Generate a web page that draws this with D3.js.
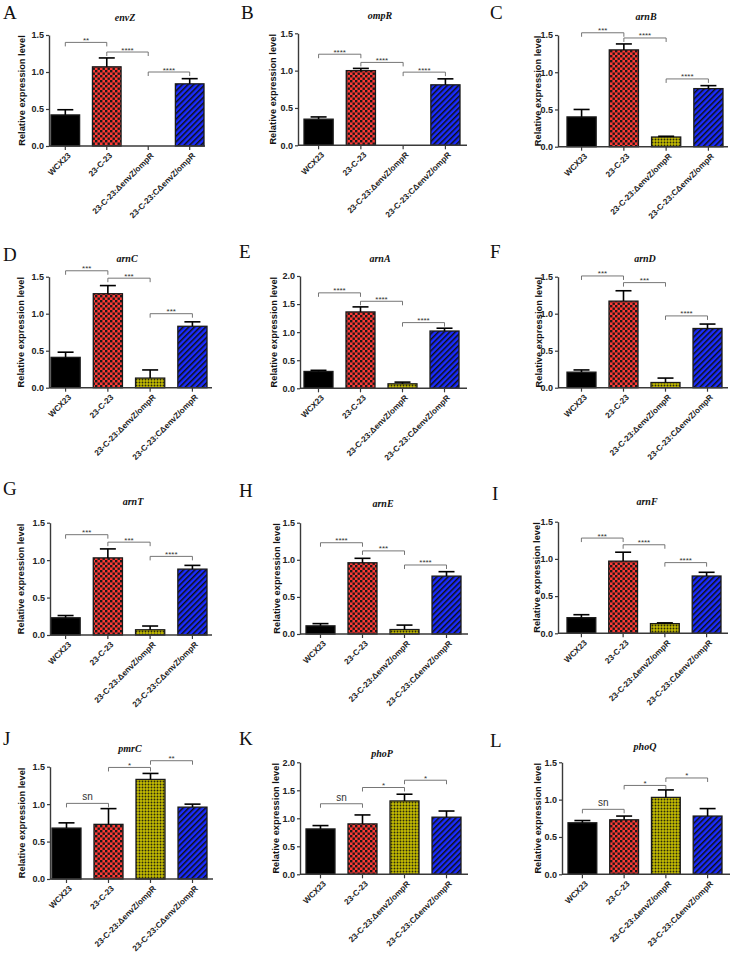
<!DOCTYPE html>
<html><head><meta charset="utf-8">
<script src="https://cdn.jsdelivr.net/npm/d3@7"></script>
<style>body{margin:0;background:#fff} svg{display:block}</style>
</head><body>
<svg id="c" width="731" height="954"></svg>
<script>
// ---------- DATA ----------
const categories = ["WCX23", "23-C-23", "23-C-23:ΔenvZ/ompR", "23-C-23:CΔenvZ/ompR"];
const genes = ["envZ","ompR","arnB","arnC","arnA","arnD","arnT","arnE","arnF","pmrC","phoP","phoQ"];
const panelLetters = ["A","B","C","D","E","F","G","H","I","J","K","L"];
const yMaxValues = [1.5,1.5,1.5,1.5,2.0,1.5,1.5,1.5,1.5,1.5,2.0,1.5];
const yTickStep = 0.5;
const yAxisTitle = "Relative expression level";

const means = [
  [0.42, 1.07, 0.00, 0.84], // envZ
  [0.35, 1.00, 0.00, 0.81], // ompR
  [0.40, 1.30, 0.13, 0.78], // arnB
  [0.41, 1.27, 0.13, 0.83], // arnC
  [0.30, 1.36, 0.08, 1.02], // arnA
  [0.21, 1.17, 0.07, 0.80], // arnD
  [0.23, 1.03, 0.07, 0.88], // arnT
  [0.11, 0.96, 0.06, 0.78], // arnE
  [0.21, 0.97, 0.13, 0.77], // arnF
  [0.68, 0.73, 1.33, 0.96], // pmrC
  [0.81, 0.90, 1.31, 1.02], // phoP
  [0.69, 0.73, 1.03, 0.78]  // phoQ
];
const errors = [
  [0.07, 0.12, 0.00, 0.07],
  [0.03, 0.03, 0.00, 0.08],
  [0.10, 0.08, 0.01, 0.04],
  [0.07, 0.11, 0.11, 0.06],
  [0.02, 0.09, 0.03, 0.05],
  [0.03, 0.14, 0.06, 0.06],
  [0.03, 0.12, 0.05, 0.05],
  [0.03, 0.06, 0.06, 0.06],
  [0.04, 0.12, 0.01, 0.05],
  [0.07, 0.21, 0.08, 0.04],
  [0.06, 0.16, 0.12, 0.11],
  [0.03, 0.05, 0.10, 0.10]
];
// significance brackets: [from index, to index, level (data units), label]
const brackets = [
  [[0,1,1.40,"**"],  [1,2,1.27,"****"], [2,3,1.00,"****"]],
  [[0,1,1.22,"****"],[1,2,1.11,"****"], [2,3,0.98,"****"]],
  [[0,1,1.53,"***"], [1,2,1.46,"****"], [2,3,0.91,"****"]],
  [[0,1,1.58,"***"], [1,2,1.48,"***"],  [2,3,1.00,"***"]],
  [[0,1,1.70,"****"],[1,2,1.55,"****"], [2,3,1.17,"****"]],
  [[0,1,1.51,"***"], [1,2,1.42,"***"],  [2,3,0.97,"****"]],
  [[0,1,1.34,"***"], [1,2,1.24,"***"],  [2,3,1.05,"****"]],
  [[0,1,1.23,"****"],[1,2,1.12,"***"],  [2,3,0.93,"****"]],
  [[0,1,1.28,"***"], [1,2,1.19,"****"], [2,3,0.95,"****"]],
  [[0,1,1.01,"sn"],  [1,2,1.49,"*"],    [2,3,1.58,"**"]],
  [[0,1,1.26,"sn"],  [1,2,1.55,"*"],    [2,3,1.68,"*"]],
  [[0,1,0.87,"sn"],  [1,2,1.19,"*"],    [2,3,1.29,"*"]]
];

// ---------- LAYOUT (positions only) ----------
const layout = [
  {ax:49, ae:205, yt:35,    y0:146,   bl:51,  br:204, tx:125, ty:21,  lx:3,   ly:19,  ytx:25},
  {ax:298,ae:467, yt:33.3,  y0:145.3, bl:304, br:460, tx:380, ty:19,  lx:241, ly:19,  ytx:276},
  {ax:558,ae:728, yt:35,    y0:146.7, bl:567, br:723, tx:646, ty:20,  lx:490, ly:19,  ytx:541},
  {ax:49, ae:212, yt:276.7, y0:387.7, bl:51,  br:207, tx:127, ty:262, lx:3,   ly:261, ytx:23.5},
  {ax:300,ae:467, yt:276,   y0:388.3, bl:304, br:459, tx:380, ty:262, lx:239, ly:258, ytx:277},
  {ax:558,ae:728, yt:276.7, y0:387.7, bl:567, br:722, tx:645, ty:262, lx:490, ly:258, ytx:542},
  {ax:50, ae:212, yt:522.7, y0:635,   bl:51,  br:207, tx:133, ty:505, lx:3,   ly:495, ytx:24},
  {ax:300,ae:468, yt:522.7, y0:634,   bl:306, br:461, tx:383, ty:507, lx:239, ly:497, ytx:279.5},
  {ax:558,ae:728, yt:521.7, y0:633.3, bl:567, br:721, tx:647, ty:505, lx:492, ly:500, ytx:539.5},
  {ax:50, ae:213, yt:766.7, y0:879,   bl:52,  br:207, tx:130, ty:752, lx:3,   ly:745, ytx:24.5},
  {ax:300,ae:468, yt:762.3, y0:874.3, bl:306, br:461, tx:382, ty:757, lx:239, ly:745, ytx:278.5},
  {ax:562,ae:730, yt:762.3, y0:874.3, bl:568, br:722, tx:645, ty:750, lx:490, ly:747, ytx:541}
];

const svg = d3.select("#c");
const defs = svg.append("defs");

// patterns
const pr = defs.append("pattern").attr("id","pRed").attr("patternUnits","userSpaceOnUse")
  .attr("width",5).attr("height",5);
pr.append("rect").attr("width",5).attr("height",5).attr("fill","#ff3a35");
pr.append("rect").attr("width",2.4).attr("height",2.4).attr("fill","#1a1a1a");
pr.append("rect").attr("x",2.5).attr("y",2.5).attr("width",2.4).attr("height",2.4).attr("fill","#1a1a1a");

const py = defs.append("pattern").attr("id","pYel").attr("patternUnits","userSpaceOnUse")
  .attr("width",3).attr("height",3);
py.append("rect").attr("width",3).attr("height",3).attr("fill","#c4bc00");
py.append("circle").attr("cx",1.5).attr("cy",1.5).attr("r",0.95).attr("fill","#2a2a10");

const pb = defs.append("pattern").attr("id","pBlue").attr("patternUnits","userSpaceOnUse")
  .attr("width",4).attr("height",4).attr("patternTransform","rotate(45)");
pb.append("rect").attr("width",4).attr("height",4).attr("fill","#1a2cff");
pb.append("rect").attr("width",1.5).attr("height",4).attr("fill","#101010");

const fills = ["#000000","url(#pRed)","url(#pYel)","url(#pBlue)"];

genes.forEach((gene, i) => {
  const L = layout[i];
  const g = svg.append("g");
  const yMax = yMaxValues[i];
  const y = d3.scaleLinear().domain([0, yMax]).range([L.y0, L.yt]);
  const x = d3.scaleBand().domain(categories).range([L.bl, L.br]).paddingInner(0.31).paddingOuter(0);
  const bw = x.bandwidth();

  g.append("text").attr("x", L.lx).attr("y", L.ly)
    .attr("font-family","'Liberation Serif','Times New Roman',serif")
    .attr("font-size", 19).attr("fill","#111").text(panelLetters[i]);
  g.append("text").attr("x", L.tx).attr("y", L.ty).attr("text-anchor","middle")
    .attr("font-family","'Liberation Serif','Times New Roman',serif")
    .attr("font-size", 10).attr("font-style","italic").attr("font-weight","bold")
    .attr("fill","#111").text(gene);

  const rows = categories.map((c, k) => ({c, k, v: means[i][k], e: errors[i][k]}));
  g.selectAll("rect.bar").data(rows.filter(d => d.v > 0)).join("rect")
    .attr("class","bar")
    .attr("x", d => x(d.c)).attr("width", bw)
    .attr("y", d => y(d.v)).attr("height", d => y(0) - y(d.v))
    .attr("fill", d => fills[d.k]).attr("stroke","#1a1a1a").attr("stroke-width",1.3);

  const eb = g.selectAll("g.err").data(rows.filter(d => d.v > 0 && d.e > 0)).join("g").attr("class","err");
  eb.append("line")
    .attr("x1", d => x(d.c) + bw/2).attr("x2", d => x(d.c) + bw/2)
    .attr("y1", d => y(d.v)).attr("y2", d => y(d.v + d.e))
    .attr("stroke","#000").attr("stroke-width",1.6);
  eb.append("line")
    .attr("x1", d => x(d.c) + bw/2 - 8).attr("x2", d => x(d.c) + bw/2 + 8)
    .attr("y1", d => y(d.v + d.e)).attr("y2", d => y(d.v + d.e))
    .attr("stroke","#000").attr("stroke-width",1.6);

  const ticks = d3.range(0, yMax + 1e-9, yTickStep);
  const ya = g.append("g").attr("transform", `translate(${L.ax},0)`)
    .call(d3.axisLeft(y).tickValues(ticks).tickFormat(d3.format(".1f")).tickSize(3).tickSizeOuter(0).tickPadding(2));
  ya.select(".domain").attr("stroke","#3a3a3a").attr("stroke-width",1.4);
  ya.selectAll(".tick line").attr("stroke","#3a3a3a").attr("stroke-width",1.2);
  ya.selectAll(".tick text").attr("font-family","'Liberation Sans',Arial,sans-serif")
    .attr("font-size",9).attr("font-weight","bold").attr("fill","#222");

  const xa = g.append("g").attr("transform", `translate(0,${L.y0})`)
    .call(d3.axisBottom(x).tickSize(4).tickSizeOuter(0));
  xa.select(".domain").remove();
  xa.append("line").attr("x1", L.ax).attr("x2", L.ae).attr("y1",0).attr("y2",0)
    .attr("stroke","#3a3a3a").attr("stroke-width",1.6);
  xa.selectAll(".tick line").attr("stroke","#3a3a3a").attr("stroke-width",1.2);
  xa.selectAll(".tick text")
    .attr("x",0).attr("y",0).attr("dy","0.35em")
    .attr("transform","translate(4,8) rotate(-45)")
    .attr("text-anchor","end")
    .attr("font-family","'Liberation Sans',Arial,sans-serif")
    .attr("font-size",8.2).attr("font-weight","bold").attr("fill","#222");

  g.append("text")
    .attr("transform", `translate(${L.ytx},${(L.y0 + L.yt)/2}) rotate(-90)`)
    .attr("text-anchor","middle")
    .attr("font-family","'Liberation Sans',Arial,sans-serif")
    .attr("font-size",9.3).attr("font-weight","bold").attr("fill","#111")
    .text(yAxisTitle);

  brackets[i].forEach(([a, b, lvl, lab]) => {
    const xa1 = x(categories[a]) + bw/2, xb1 = x(categories[b]) + bw/2, yy = y(lvl);
    g.append("path")
      .attr("d", `M${xa1},${yy + 4}V${yy}H${xb1}V${yy + 4}`)
      .attr("fill","none").attr("stroke","#666").attr("stroke-width",0.9);
    const isSn = lab === "sn";
    g.append("text").attr("x", (xa1 + xb1)/2).attr("y", isSn ? yy - 3 : yy + 0.5)
      .attr("text-anchor","middle")
      .attr("font-family","'Liberation Sans',Arial,sans-serif")
      .attr("font-size", isSn ? 10 : 8).attr("fill","#333")
      .text(lab);
  });
});
</script>
</body></html>
